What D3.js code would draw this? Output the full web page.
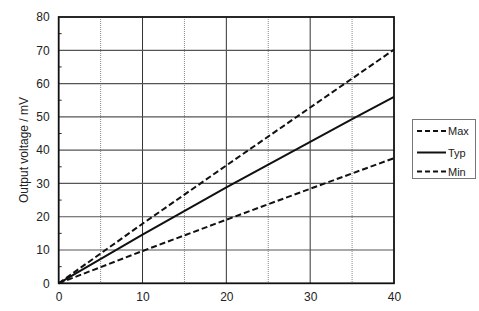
<!DOCTYPE html>
<html><head><meta charset="utf-8">
<script src="https://cdn.jsdelivr.net/npm/d3@7"></script>
<style>body{margin:0;background:#fff;} svg{display:block;font-family:"Liberation Sans",Arial,sans-serif;}</style>
</head><body>
<script>
const xValues = [0, 10, 20, 30, 35, 40];
const maxValues = [0, 17.9, 35.4, 52.8, 61.5, 70.2];
const typValues = [0, 14.6, 28.8, 42.5, 49.3, 56.0];
const minValues = [0, 9.7, 19.1, 28.4, 33.0, 37.6];
const seriesNames = ["Max", "Typ", "Min"];
const xTicks = [0, 10, 20, 30, 40];
const yTicks = [0, 10, 20, 30, 40, 50, 60, 70, 80];
const yLabel = "Output voltage / mV";

const W = 479, H = 311;
const m = {left: 58.7, top: 17, right: 394, bottom: 283.3};
const svg = d3.select("body").append("svg").attr("width", W).attr("height", H);
const x = d3.scaleLinear().domain([0, 40]).range([m.left, m.right]);
const y = d3.scaleLinear().domain([0, 80]).range([m.bottom, m.top]);

// gridlines
const g = svg.append("g");
[5, 15, 25, 35].forEach(v => g.append("line").attr("x1", x(v)).attr("x2", x(v)).attr("y1", m.top).attr("y2", m.bottom)
  .attr("stroke", "#888").attr("stroke-width", 1).attr("stroke-dasharray", "1,1"));
[10, 20, 30].forEach(v => g.append("line").attr("x1", x(v)).attr("x2", x(v)).attr("y1", m.top).attr("y2", m.bottom)
  .attr("stroke", "#333").attr("stroke-width", 1));
yTicks.slice(1, -1).forEach(v => g.append("line").attr("x1", m.left).attr("x2", m.right).attr("y1", y(v)).attr("y2", y(v))
  .attr("stroke", "#555").attr("stroke-width", 1.2));
// minor ticks
d3.range(5, 80, 10).forEach(v => g.append("line").attr("x1", m.left).attr("x2", m.left + 3).attr("y1", y(v)).attr("y2", y(v))
  .attr("stroke", "#333").attr("stroke-width", 1));

// axes
const xAxis = d3.axisBottom(x).tickValues(xTicks).tickSize(0).tickPadding(9);
const yAxis = d3.axisLeft(y).tickValues(yTicks).tickSize(0).tickPadding(9);
const gx = svg.append("g").attr("transform", `translate(0,${m.bottom})`).call(xAxis);
const gy = svg.append("g").attr("transform", `translate(${m.left},0)`).call(yAxis);
[gx, gy].forEach(a => { a.select(".domain").remove(); a.selectAll("text").attr("font-size", 12).attr("fill", "#222")
  .attr("font-family", "'Liberation Sans', Arial, sans-serif"); });

// frame
svg.append("rect").attr("x", m.left).attr("y", m.top).attr("width", m.right - m.left).attr("height", m.bottom - m.top)
  .attr("fill", "none").attr("stroke", "#111").attr("stroke-width", 1.8);

// data lines
const line = d3.line().x(d => x(d[0])).y(d => y(d[1]));
const data = [maxValues, typValues, minValues];
const dashes = ["6,3", null, "6,3"];
data.forEach((vals, i) => {
  svg.append("path").datum(xValues.map((xv, j) => [xv, vals[j]])).attr("d", line)
    .attr("fill", "none").attr("stroke", "#111").attr("stroke-width", 2)
    .attr("stroke-dasharray", dashes[i]);
});

// y label
svg.append("text").attr("transform", `translate(28,150) rotate(-90)`).attr("text-anchor", "middle")
  .attr("font-size", 12).attr("fill", "#222").text(yLabel);

// legend
const lg = svg.append("g");
lg.append("rect").attr("x", 412.5).attr("y", 119.5).attr("width", 63).attr("height", 59)
  .attr("fill", "#fff").attr("stroke", "#777").attr("stroke-width", 1);
const ly = [131, 152.5, 171.5];
seriesNames.forEach((n, i) => {
  lg.append("line").attr("x1", 417).attr("x2", 446).attr("y1", ly[i]).attr("y2", ly[i])
    .attr("stroke", "#111").attr("stroke-width", 2).attr("stroke-dasharray", dashes[i] ? "5,3" : null);
  lg.append("text").attr("x", 448).attr("y", ly[i] + 4).attr("font-size", 11).attr("fill", "#222").text(n);
});
</script>
</body></html>
